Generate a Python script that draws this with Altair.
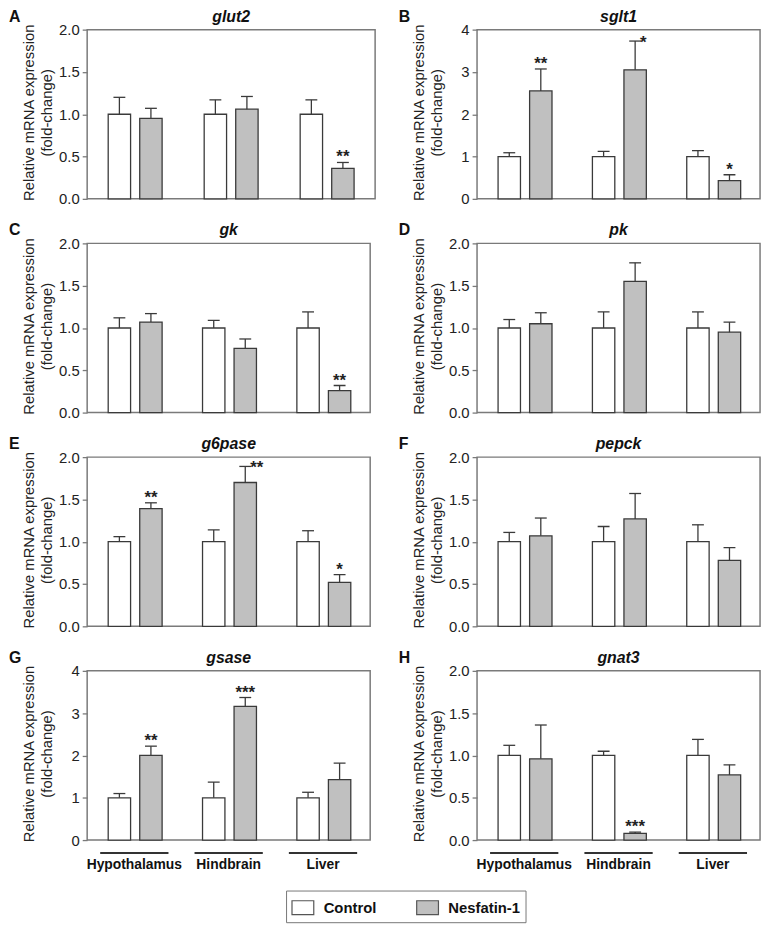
import altair as alt
import pandas as pd

groups = ["Hypothalamus", "Hindbrain", "Liver"]
treatments = ["Control", "Nesfatin-1"]
genes = ["glut2", "sglt1", "gk", "pk", "g6pase", "pepck", "gsase", "gnat3"]
letters = ["A", "B", "C", "D", "E", "F", "G", "H"]
y_max = [2, 4, 2, 2, 2, 2, 4, 2]

# order: Hypo-Control, Hypo-Nesfatin, Hind-Control, Hind-Nesfatin, Liver-Control, Liver-Nesfatin
glut2_mean = [1.00, 0.95, 1.00, 1.06, 1.00, 0.36]
glut2_err = [0.20, 0.12, 0.17, 0.15, 0.17, 0.07]
sglt1_mean = [1.00, 2.55, 1.00, 3.05, 1.00, 0.43]
sglt1_err = [0.09, 0.52, 0.12, 0.68, 0.14, 0.14]
gk_mean = [1.00, 1.07, 1.00, 0.76, 1.00, 0.26]
gk_err = [0.12, 0.10, 0.09, 0.11, 0.19, 0.06]
pk_mean = [1.00, 1.05, 1.00, 1.55, 1.00, 0.95]
pk_err = [0.10, 0.13, 0.19, 0.22, 0.19, 0.12]
g6pase_mean = [1.00, 1.39, 1.00, 1.70, 1.00, 0.52]
g6pase_err = [0.06, 0.07, 0.14, 0.19, 0.13, 0.09]
pepck_mean = [1.00, 1.07, 1.00, 1.27, 1.00, 0.78]
pepck_err = [0.11, 0.21, 0.18, 0.30, 0.20, 0.15]
gsase_mean = [1.00, 2.00, 1.00, 3.16, 1.00, 1.43]
gsase_err = [0.10, 0.22, 0.37, 0.21, 0.13, 0.39]
gnat3_mean = [1.00, 0.96, 1.00, 0.08, 1.00, 0.77]
gnat3_err = [0.12, 0.40, 0.05, 0.014, 0.19, 0.12]

glut2_star = ["", "", "", "", "", "**"]
sglt1_star = ["", "**", "", "*", "", "*"]
gk_star = ["", "", "", "", "", "**"]
pk_star = ["", "", "", "", "", ""]
g6pase_star = ["", "**", "", "**", "", "*"]
pepck_star = ["", "", "", "", "", ""]
gsase_star = ["", "**", "", "***", "", ""]
gnat3_star = ["", "", "", "***", "", ""]

# where the star sits: "up" = above the cap, "right" = beside the cap
glut2_side = ["", "", "", "", "", "up"]
sglt1_side = ["", "up", "", "right", "", "up"]
gk_side = ["", "", "", "", "", "up"]
pk_side = ["", "", "", "", "", ""]
g6pase_side = ["", "up", "", "right", "", "up"]
pepck_side = ["", "", "", "", "", ""]
gsase_side = ["", "up", "", "up", "", ""]
gnat3_side = ["", "", "", "up", "", ""]

means = [glut2_mean, sglt1_mean, gk_mean, pk_mean, g6pase_mean, pepck_mean, gsase_mean, gnat3_mean]
errs = [glut2_err, sglt1_err, gk_err, pk_err, g6pase_err, pepck_err, gsase_err, gnat3_err]
stars = [glut2_star, sglt1_star, gk_star, pk_star, g6pase_star, pepck_star, gsase_star, gnat3_star]
sides = [glut2_side, sglt1_side, gk_side, pk_side, g6pase_side, pepck_side, gsase_side, gnat3_side]

FONT = "Liberation Sans"
DARK = "#3a3a3a"
H = 171


def make_panel(i):
    df = pd.DataFrame({
        "group": [g for g in groups for _ in treatments],
        "treatment": treatments * len(groups),
        "mean": means[i],
        "err": errs[i],
        "star": stars[i],
        "side": sides[i],
    })
    df["top"] = df["mean"] + df["err"]
    bottom = i >= 6
    width = 291 if i == 0 else 286
    ymax = y_max[i]
    ticks = [0, 0.5, 1, 1.5, 2] if ymax == 2 else [0, 1, 2, 3, 4]
    fmt = ".1f" if ymax == 2 else "d"

    if bottom:
        x_axis = alt.Axis(title=None, labelAngle=0, ticks=False, tickSize=0, domain=False,
                          labelFontSize=14, labelFontWeight="bold", labelPadding=18,
                          labelColor="#111", labelFont=FONT)
    else:
        x_axis = None
    x = alt.X("group:N", sort=groups,
              scale=alt.Scale(domain=groups, paddingInner=0, paddingOuter=0), axis=x_axis)
    xo = alt.XOffset("treatment:N", sort=treatments,
                     scale=alt.Scale(domain=treatments, paddingInner=0.29, paddingOuter=0.667))
    y_axis = alt.Axis(values=ticks, format=fmt,
                      title=["Relative mRNA expression", "(fold-change)"],
                      titleX=-51, titleY=H / 2 - 2, titleBaseline="bottom", titleAngle=270)
    yscale = alt.Scale(domain=[0, ymax], nice=False, zero=True)
    y = alt.Y("mean:Q", scale=yscale, axis=y_axis)
    ytop = alt.Y("top:Q", scale=yscale, axis=y_axis)

    if i == 6:
        legend = alt.Legend(
            title=None, orient="none", legendX=201, legendY=222, direction="horizontal",
            strokeColor="#777", fillColor="white", padding=5,
            symbolType="M-1,-0.636L1,-0.636L1,0.636L-1,0.636Z", symbolSize=484,
            symbolStrokeColor="#555", symbolStrokeWidth=1.2, symbolOpacity=1,
            labelFont=FONT, labelFontSize=15, labelFontWeight="bold", labelColor="#111",
            labelOffset=9, columnPadding=37,
        )
    else:
        legend = None
    fill = alt.Fill("treatment:N", sort=treatments,
                    scale=alt.Scale(domain=treatments, range=["#ffffff", "#c0c0c0"]),
                    legend=legend)

    base = alt.Chart(df)
    bars = base.mark_bar(stroke=DARK, strokeWidth=1.3, opacity=1).encode(
        x=x, xOffset=xo, y=y, fill=fill)
    err = base.mark_rule(color=DARK, strokeWidth=1.3).encode(
        x=x, xOffset=xo, y=y, y2="top:Q")
    cap = base.mark_tick(color=DARK, thickness=1.3, size=12, orient="horizontal", opacity=1).encode(
        x=x, xOffset=xo, y=ytop)
    star_up = base.transform_filter(alt.datum.side == "up").mark_text(
        font=FONT, fontSize=17, fontWeight="bold", color="#222", baseline="alphabetic", dy=0
    ).encode(x=x, xOffset=xo, y=ytop, text="star:N")
    star_right = base.transform_filter(alt.datum.side == "right").mark_text(
        font=FONT, fontSize=17, fontWeight="bold", color="#222", baseline="alphabetic",
        align="left", dx=5, dy=7
    ).encode(x=x, xOffset=xo, y=ytop, text="star:N")
    labels = alt.Chart(pd.DataFrame({"letter": [letters[i]], "gene": [genes[i]]}))
    letter = labels.mark_text(
        font=FONT, fontSize=16, fontWeight="bold", align="left", baseline="top", color="#111"
    ).encode(text="letter:N", x=alt.value(-79), y=alt.value(-21))
    gene = labels.mark_text(
        font=FONT, fontSize=16, fontWeight="bold", fontStyle="italic", align="center",
        baseline="alphabetic", color="#111"
    ).encode(text="gene:N", x=alt.value(width / 2), y=alt.value(-8))

    layers = [bars, err, cap, star_up, star_right, letter, gene]
    if bottom:
        lines = alt.Chart(pd.DataFrame({"group": groups})).mark_tick(
            color="#333", thickness=2, size=69, orient="horizontal", opacity=1
        ).encode(x=x, y=alt.value(H + 13))
        layers.append(lines)

    return alt.layer(*layers).properties(width=width, height=H)


panels = [make_panel(i) for i in range(8)]

chart = alt.concat(
    *panels, columns=2, spacing={"row": 45, "column": 103}, bounds="flush"
).resolve_scale(fill="independent").properties(
    padding={"left": 0, "top": -5, "right": 4, "bottom": 0}
).configure(
    font=FONT
).configure_view(
    stroke="#7a7a7a", strokeWidth=1.5
).configure_axisY(
    labelFont=FONT, labelFontSize=15, labelColor="#222", tickColor="#7a7a7a",
    tickSize=5, tickWidth=1.3, domain=False, grid=False, labelPadding=3,
    titleFont=FONT, titleFontSize=15, titleFontWeight="normal", titleColor="#222",
    titleLineHeight=18
)

chart.save("out.html", embed_options={"renderer": "svg", "actions": False})
